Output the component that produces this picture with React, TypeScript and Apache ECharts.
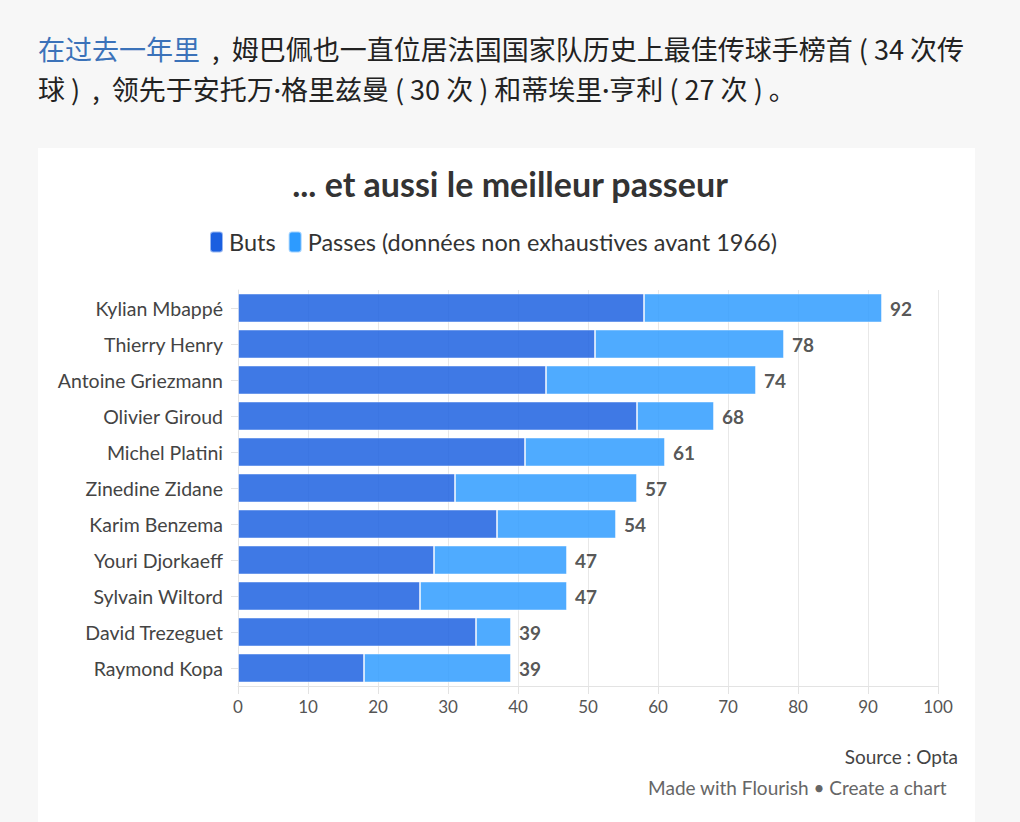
import React, { useEffect, useRef } from "react";
import * as echarts from "echarts";

// Players, top to bottom
const players = [
  "Kylian Mbappé",
  "Thierry Henry",
  "Antoine Griezmann",
  "Olivier Giroud",
  "Michel Platini",
  "Zinedine Zidane",
  "Karim Benzema",
  "Youri Djorkaeff",
  "Sylvain Wiltord",
  "David Trezeguet",
  "Raymond Kopa",
];
const buts = [58, 51, 44, 57, 41, 31, 37, 28, 26, 34, 18];
const passes = [34, 27, 30, 11, 20, 26, 17, 19, 21, 5, 21];
const totals = [92, 78, 74, 68, 61, 57, 54, 47, 47, 39, 39];
const xTicks = [0, 10, 20, 30, 40, 50, 60, 70, 80, 90, 100];

const FONT = "Lato, 'Noto Sans', sans-serif";
const CJK = "'Noto Sans CJK SC', 'Noto Sans', sans-serif";

export default function App() {
  const ref = useRef<HTMLDivElement>(null);

  useEffect(() => {
    document.body.style.margin = "0";
    if (!ref.current) return;
    const chart = echarts.init(ref.current, undefined, { renderer: "svg" });

    // reversed so the first player sits at the top
    const cats = [...players].reverse();
    const butsR = [...buts].reverse();
    const passesR = [...passes].reverse();
    const totalsR = [...totals].reverse();

    const cjk = (fill: string) => ({ fontSize: 27, fontFamily: CJK, fill, lineHeight: 40 });

    chart.setOption({
      animation: false,
      backgroundColor: "#f7f7f7",
      graphic: [
        {
          type: "rect",
          shape: { x: 38, y: 148, width: 937, height: 700 },
          style: { fill: "#ffffff" },
          z: -10,
        },
        {
          type: "text",
          x: 38,
          y: 28,
          style: {
            text:
              "{a|在过去一年里}{b|  ,  姆巴佩也一直位居法国国家队历史上最佳传球手榜首 ( 34 次传}\n" +
              "{b|球 )  ,  领先于安托万}{d|·}{b|格里兹曼 ( 30 次 ) 和蒂埃里}{d|·}{b|亨利 ( 27 次 ) 。}",
            rich: {
              a: cjk("#3b72b9"),
              b: cjk("#222222"),
              d: { fontSize: 27, fontFamily: FONT, fill: "#222222", lineHeight: 40 },
            },
          },
        },
        {
          type: "text",
          right: 62,
          top: 747,
          style: { text: "Source : Opta", fontSize: 19, fontFamily: FONT, fill: "#444444" },
        },
        {
          type: "text",
          right: 73,
          top: 778,
          style: {
            text: "Made with Flourish • Create a chart",
            fontSize: 19,
            fontFamily: FONT,
            fill: "#666666",
          },
        },
      ],
      title: {
        text: "... et aussi le meilleur passeur",
        left: "center",
        top: 161,
        textStyle: { fontSize: 34, fontWeight: "bold", fontFamily: FONT, color: "#333333" },
      },
      legend: {
        top: 225,
        left: 204,
        itemWidth: 13,
        itemHeight: 21,
        itemGap: 12,
        icon: "roundRect",
        textStyle: { fontSize: 23.5, fontFamily: FONT, color: "#333333", padding: [0, 0, 0, 1] },
        data: [
          { name: "Buts", itemStyle: { color: "#1a5fe0", opacity: 1 } },
          {
            name: "Passes (données non exhaustives avant 1966)",
            itemStyle: { color: "#2d9bff", opacity: 1 },
          },
        ],
      },
      grid: { left: 238, right: 82, top: 290, bottom: 136, containLabel: false },
      xAxis: {
        type: "value",
        min: 0,
        max: 100,
        interval: 10,
        axisLine: { show: true, lineStyle: { color: "#e3e3e3", width: 1 } },
        axisTick: { show: true, length: 8, lineStyle: { color: "#e3e3e3" } },
        splitLine: { show: true, lineStyle: { color: "#e8e8e8", width: 1 } },
        axisLabel: {
          margin: 12,
          fontSize: 17,
          fontFamily: FONT,
          color: "#555555",
          formatter: (v: number) => (xTicks.includes(v) ? String(v) : ""),
        },
      },
      yAxis: {
        type: "category",
        data: cats,
        axisLine: { show: true, lineStyle: { color: "#e3e3e3" } },
        axisTick: { show: true, alignWithLabel: true, length: 7, lineStyle: { color: "#e3e3e3" } },
        axisLabel: { margin: 15, fontSize: 19.5, fontFamily: FONT, color: "#444444" },
      },
      series: [
        {
          name: "Buts",
          type: "bar",
          stack: "total",
          data: butsR,
          barWidth: 29,
          itemStyle: {
            color: "#1a5fe0",
            opacity: 0.84,
            borderColor: "rgba(255,255,255,0.55)",
            borderWidth: 1,
          },
        },
        {
          name: "Passes (données non exhaustives avant 1966)",
          type: "bar",
          stack: "total",
          data: passesR,
          barWidth: 29,
          itemStyle: {
            color: "#2d9bff",
            opacity: 0.84,
            borderColor: "rgba(255,255,255,0.55)",
            borderWidth: 1,
          },
          label: {
            show: true,
            position: "right",
            distance: 8,
            fontSize: 19,
            fontWeight: "bold",
            fontFamily: FONT,
            color: "#333333",
            formatter: (p: any) => String(totalsR[p.dataIndex]),
          },
        },
      ],
    });

    return () => chart.dispose();
  }, []);

  return <div ref={ref} style={{ width: 1020, height: 822 }} />;
}
